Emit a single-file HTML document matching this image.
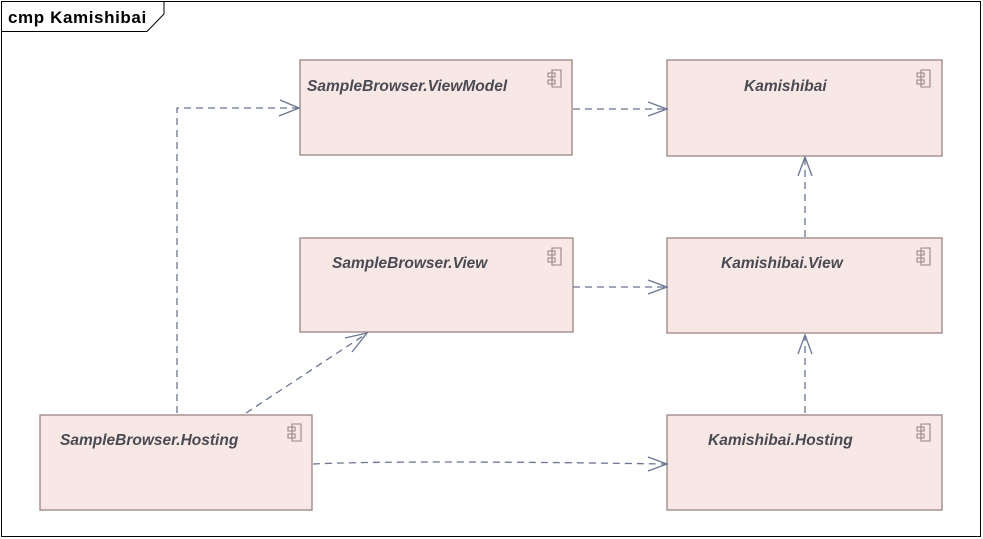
<!DOCTYPE html>
<html><head><meta charset="utf-8"><style>
html,body{margin:0;padding:0;background:#fff;}
svg{display:block;}
.t{font-family:"Liberation Sans",sans-serif;font-weight:bold;font-style:italic;font-size:15.5px;fill:#4a4a52;}
.b{fill:#f7e8e6;stroke:#9a8484;stroke-width:1.3;}
.c{fill:none;stroke:#6b7590;stroke-width:1.3;stroke-dasharray:7,5;}
.a{fill:none;stroke:#6b7590;stroke-width:1.3;}
.i{fill:none;stroke:#9a8484;stroke-width:1.1;}
</style></head><body>
<svg width="983" height="539" viewBox="0 0 983 539" xmlns="http://www.w3.org/2000/svg">
<rect x="1.5" y="1.5" width="979" height="535" fill="#fff" stroke="#000" stroke-width="1"/>
<path d="M1.5 31.5 H147 L164 14 V1.5" fill="none" stroke="#000" stroke-width="1"/>
<text x="8" y="23" style="font-family:'Liberation Sans',sans-serif;font-weight:bold;font-size:17px;letter-spacing:0.6px;fill:#000">cmp Kamishibai</text>

<g>
<rect class="b" x="300" y="60" width="272" height="95"/>
<rect class="b" x="667" y="60" width="275" height="96"/>
<rect class="b" x="300" y="238" width="273" height="94"/>
<rect class="b" x="667" y="238" width="275" height="95"/>
<rect class="b" x="40" y="415" width="272" height="95"/>
<rect class="b" x="667" y="415" width="275" height="95"/>
</g>

<g id="icons">
<g transform="translate(548,70)"><path class="i" d="M4 0 H13 V17 H4 Z M0 3 H7 V7 H0 Z M0 10 H7 V14 H0 Z"/></g>
<g transform="translate(917,70)"><path class="i" d="M4 0 H13 V17 H4 Z M0 3 H7 V7 H0 Z M0 10 H7 V14 H0 Z"/></g>
<g transform="translate(548,248)"><path class="i" d="M4 0 H13 V17 H4 Z M0 3 H7 V7 H0 Z M0 10 H7 V14 H0 Z"/></g>
<g transform="translate(917,248)"><path class="i" d="M4 0 H13 V17 H4 Z M0 3 H7 V7 H0 Z M0 10 H7 V14 H0 Z"/></g>
<g transform="translate(288,424)"><path class="i" d="M4 0 H13 V17 H4 Z M0 3 H7 V7 H0 Z M0 10 H7 V14 H0 Z"/></g>
<g transform="translate(917,424)"><path class="i" d="M4 0 H13 V17 H4 Z M0 3 H7 V7 H0 Z M0 10 H7 V14 H0 Z"/></g>
</g>

<text class="t" x="307" y="91">SampleBrowser.ViewModel</text>
<text class="t" x="744" y="91">Kamishibai</text>
<text class="t" x="332" y="268">SampleBrowser.View</text>
<text class="t" x="721" y="268">Kamishibai.View</text>
<text class="t" x="60" y="445">SampleBrowser.Hosting</text>
<text class="t" x="708" y="445">Kamishibai.Hosting</text>

<path class="c" d="M177 413 V108 H299"/>
<path class="a" d="M280 100 L299 108 L279 116"/>
<path class="c" d="M573 109 H666"/>
<path class="a" d="M648 102 L667 109 L648 116"/>
<path class="c" d="M805 237 V158"/>
<path class="a" d="M798 176 L805 157 L812 176"/>
<path class="c" d="M573 287 H666"/>
<path class="a" d="M648 280 L667 287 L648 294"/>
<path class="c" d="M246 413 L366 334"/>
<path class="a" d="M345 338 L367 333 L352 352"/>
<path class="c" d="M805 413 V336"/>
<path class="a" d="M798 354 L805 335 L812 354"/>
<path class="c" d="M313 464 Q400 460 666 464"/>
<path class="a" d="M648 457 L667 464 L648 471"/>
</svg>
</body></html>
